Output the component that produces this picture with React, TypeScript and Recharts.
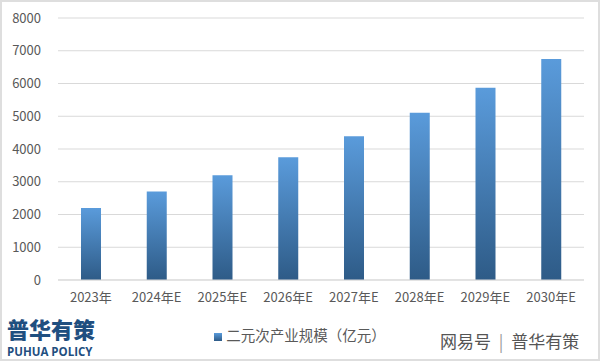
import React from 'react'
import { Bar, BarChart, CartesianGrid, Legend, XAxis, YAxis } from 'recharts'

const years = ['2023年', '2024年E', '2025年E', '2026年E', '2027年E', '2028年E', '2029年E', '2030年E']
const scale = [2200, 2700, 3200, 3750, 4390, 5110, 5870, 6750]
const yTicks = [0, 1000, 2000, 3000, 4000, 5000, 6000, 7000, 8000]
const seriesName = '二元次产业规模（亿元）'

const data = years.map((year, index) => ({ year, scale: scale[index] }))

const font = '"Noto Sans CJK SC", "Noto Sans", sans-serif'
const tickStyle = { fill: '#595959', fontSize: 13, fontFamily: font }

export default function App() {
  return (
    <div
      style={{
        position: 'absolute',
        left: 0,
        top: 0,
        width: 601,
        height: 361,
        background: '#fff',
        fontFamily: font,
      }}
    >
      <div
        style={{
          position: 'absolute',
          left: 0,
          top: 0,
          width: 596,
          height: 357,
          border: '2px solid #dedede',
        }}
      />
      <BarChart
        width={601}
        height={361}
        data={data}
        margin={{ top: 18, right: 17, bottom: 30, left: 0 }}
      >
        <defs>
          <linearGradient id="barFill" x1="0" y1="0" x2="0" y2="1">
            <stop offset="0%" stopColor="#5a9bdb" />
            <stop offset="100%" stopColor="#2e5b87" />
          </linearGradient>
        </defs>
        <CartesianGrid vertical={false} stroke="#d9d9d9" />
        <XAxis
          dataKey="year"
          tick={tickStyle}
          tickLine={false}
          tickSize={0}
          tickMargin={13}
          axisLine={{ stroke: '#d9d9d9' }}
          height={30}
        />
        <YAxis
          domain={[0, 8000]}
          ticks={yTicks}
          tick={tickStyle}
          tickLine={false}
          tickSize={0}
          tickMargin={17}
          axisLine={false}
          width={58}
          interval={0}
        />
        <Legend
          verticalAlign="bottom"
          iconType="square"
          iconSize={8}
          wrapperStyle={{ top: 324, left: 205, width: 200, fontSize: 14.5, fontFamily: font }}
          formatter={(value: string) => <span style={{ color: '#595959' }}>{value}</span>}
        />
        <Bar
          dataKey="scale"
          name={seriesName}
          fill="url(#barFill)"
          barSize={20}
          isAnimationActive={false}
          legendType="square"
        />
      </BarChart>
      <div
        style={{
          position: 'absolute',
          left: 7,
          top: 317,
          fontSize: 22,
          fontWeight: 900,
          color: '#1f4f80',
          lineHeight: '22px',
          fontFamily: '"Noto Sans CJK SC", sans-serif',
        }}
      >
        普华有策
      </div>
      <div
        style={{
          position: 'absolute',
          left: 7,
          top: 345,
          fontSize: 11.5,
          fontWeight: 700,
          color: '#1f4f80',
          lineHeight: '13px',
          fontFamily: '"Open Sans", sans-serif',
        }}
      >
        PUHUA POLICY
      </div>
      <div
        style={{
          position: 'absolute',
          left: 440,
          top: 330,
          fontSize: 17,
          color: '#555',
          lineHeight: '22px',
          fontFamily: '"Noto Sans CJK SC", sans-serif',
          whiteSpace: 'nowrap',
        }}
      >
        网易号 <span style={{ color: '#999', margin: '0 4px' }}>|</span> 普华有策
      </div>
    </div>
  )
}
